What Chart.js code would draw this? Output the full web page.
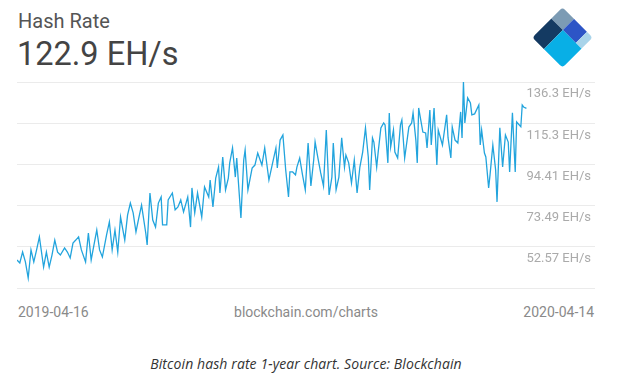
<!DOCTYPE html>
<html>
<head>
<meta charset="utf-8">
<script src="https://cdn.jsdelivr.net/npm/chart.js@4"></script>
<style>
  html, body { margin: 0; padding: 0; background: #fff; }
  #page { position: relative; width: 617px; height: 387px; overflow: hidden; font-family: Roboto, sans-serif; }
  .txt { position: absolute; white-space: nowrap; line-height: 1; }
  #title { left: 18px; top: 11px; font-size: 20px; color: #555; }
  #current { left: 17px; top: 38px; font-size: 32.5px; color: #444; }
  .foot { top: 305px; font-size: 14px; color: #8a8a8a; }
  #caption { left: 0; width: 612px; text-align: center; top: 357px; font-family: "Open Sans", sans-serif; font-style: italic; font-size: 14px; letter-spacing: 0.1px; color: #333; }
  #chart-box { position: absolute; left: 17px; top: 78px; width: 578px; height: 214px; }
  #logo { position: absolute; left: 0; top: 0; }
</style>
</head>
<body>
<div id="page">
  <div id="title" class="txt">Hash Rate</div>
  <div id="current" class="txt">122.9 EH/s</div>

  <svg id="logo" width="617" height="80">
    <defs>
      <clipPath id="diamond"><rect x="0" y="0" width="43" height="43" rx="4" ry="4"/></clipPath>
    </defs>
    <g transform="translate(562.5,37.5) rotate(45) translate(-21.5,-21.5)" clip-path="url(#diamond)">
      <rect x="0" y="0" width="16.5" height="16" fill="#7c9bb4"/>
      <rect x="0" y="16" width="16.5" height="27" fill="#143a62"/>
      <rect x="16.5" y="0" width="18.2" height="16" fill="#2d55c6"/>
      <rect x="34.7" y="0" width="8.3" height="16" fill="#a9d4ea"/>
      <rect x="16.5" y="16" width="26.5" height="27" fill="#08afe6"/>
    </g>
  </svg>

  <div id="chart-box"><canvas id="hash-chart"></canvas></div>

  <div class="txt foot" style="left:18px;">2019-04-16</div>
  <div class="txt foot" style="left:0;width:612px;text-align:center;">blockchain.com/charts</div>
  <div class="txt foot" style="right:23px;">2020-04-14</div>

  <div id="caption" class="txt">Bitcoin hash rate 1-year chart. Source: Blockchain</div>
</div>

<script>
// days since 2019-04-16
const DAYS = [
  0,2,4,6,8,10,12,14,16,19,21,23,25,27,29,31,34,36,38,40,42,44,46,49,51,53,55,57,59,61,
  64,66,68,70,72,74,77,79,81,83,85,87,89,92,93,
  95,97,99,101,103,104,107,108,111,113,115,117,119,122,124,125,127,129,132,134,137,138,140,142,144,
  145,147,149,151,152,154,156,157,160,162,163,165,168,170,172,175,177,180,182,185,186,
  188,190,192,194,195,197,199,200,202,204,206,208,210,212,213,215,217,219,221,223,225,226,228,230,232,
  234,235,237,239,241,243,245,247,249,251,252,254,255,257,258,260,262,263,265,266,267,269,270,272,274,
  275,277,280,
  282,283,285,286,287,290,292,293,295,296,298,300,301,302,304,305,307,308,310,311,313,315,317,318,319,
  320,322,324,325,327,330,331,332,334,335,337,338,340,342,343,345,347,349,351,352,354,356,357,360,361,
  362,364
];

// hash rate, EH/s
const HASH_RATE = [
  45.9,44.4,49.9,44.9,36.7,51.0,44.9,51.0,57.6,42.3,49.9,42.3,48.4,56.0,49.9,48.4,52.0,49.9,46.9,54.5,
  56.0,57.6,51.0,44.9,59.6,45.9,53.5,61.1,51.0,47.4,58.6,65.2,51.0,61.1,49.9,67.7,56.0,68.7,74.8,69.8,
  60.1,67.2,73.8,59.6,53.5,
  79.9,66.2,62.6,74.8,77.9,63.7,63.7,76.4,79.9,71.3,72.8,76.4,70.3,77.9,62.6,82.5,69.8,79.9,67.7,83.0,
  77.9,86.5,72.8,87.5,93.1,79.9,98.2,81.5,87.5,95.2,102.8,88.0,97.7,67.2,96.7,101.8,81.5,92.6,94.1,100.2,
  94.1,102.8,86.5,93.1,102.8,92.6,
  106.8,109.4,91.6,77.9,90.6,90.6,89.1,93.1,97.7,89.1,81.5,105.3,83.5,96.7,105.8,97.7,90.1,83.5,111.9,78.9,
  88.0,105.3,81.5,88.0,107.9,93.1,99.2,95.2,85.0,96.7,80.0,93.1,100.7,113.0,98.2,81.5,107.9,105.8,93.1,100.2,
  113.0,115.5,114.5,95.2,120.6,103.3,111.9,100.7,97.7,114.5,117.0,97.7,113.4,
  115.5,120.6,106.8,95.2,123.1,110.9,110.4,102.8,122.1,104.3,123.1,94.1,111.9,109.4,104.3,109.4,119.6,108.0,97.7,113.4,
  106.8,105.3,121.1,107.9,136.3,115.5,128.2,125.6,119.6,120.1,124.6,104.3,111.9,100.2,98.2,82.5,89.1,104.3,91.6,75.4,
  113.0,93.1,109.4,105.8,90.6,120.6,90.6,116.0,113.6,124.6,123.6,122.9
];

const Y_TICKS = [52.57, 73.49, 94.41, 115.3, 136.3];
const Y_MIN = 31.65;
const Y_MAX = 136.3;
const X_MAX = 413;   // leaves room on the right for the axis labels

const hashChart = new Chart(document.getElementById('hash-chart').getContext('2d'), {
  type: 'line',
  data: {
    datasets: [{
      data: DAYS.map((d, i) => ({ x: d, y: HASH_RATE[i] })),
      borderColor: '#22a4dd',
      borderWidth: 1.3,
      pointRadius: 0,
      tension: 0,
      fill: false
    }]
  },
  options: {
    responsive: true,
    maintainAspectRatio: false,
    animation: false,
    layout: { padding: { top: 4, bottom: 4, left: 0, right: 0 } },
    plugins: { legend: { display: false }, tooltip: { enabled: false } },
    scales: {
      x: { type: 'linear', min: 0, max: X_MAX, display: false },
      y: {
        position: 'right',
        min: Y_MIN,
        max: Y_MAX,
        afterBuildTicks: axis => { axis.ticks = [Y_MIN, ...Y_TICKS].map(v => ({ value: v })); },
        grid: { color: '#ebebeb', lineWidth: 1, drawTicks: false },
        border: { display: false },
        ticks: {
          mirror: true,
          padding: -4,
          labelOffset: 12,
          color: '#aaaaaa',
          font: { family: 'Roboto', size: 13 },
          callback: v => v === Y_MIN ? '' : v + ' EH/s'
        }
      }
    }
  }
});
</script>
</body>
</html>
